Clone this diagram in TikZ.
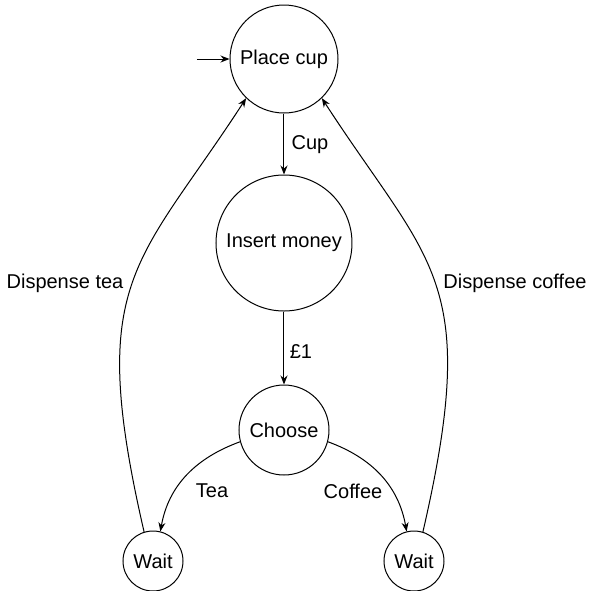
\documentclass[tikz,border=0pt]{standalone}
\usepackage{fontspec}
\setmainfont{Liberation Sans}
\usetikzlibrary{arrows.meta}

\begin{document}
\begin{tikzpicture}[x=0.5pt, y=0.5pt, ->, >={Stealth[length=4.5pt,width=3.5pt]}, draw=black, line width=0.5pt]
    \tikzstyle{state}=[circle, draw=black, inner sep=0pt, font=\fontsize{10}{12}\selectfont]
    \tikzstyle{label}=[font=\fontsize{10}{12}\selectfont]
    \useasboundingbox (0,0) rectangle (590,-591);

    % Draw the states
    \node[state, minimum size=54pt] (S-cup) at (284,-59) {Place cup};
    \node[state, minimum size=68pt] (S-money) at (284,-243) {Insert money};
    \node[state, minimum size=45pt] (S-choose) at (284,-430) {Choose};
    \node[state, minimum size=30pt] (S-tea) at (153,-561) {Wait};
    \node[state, minimum size=30pt] (S-coffee) at (414,-561) {Wait};
    \coordinate (start) at (197,-59);

    % Draw the transitions
    \draw (start) -- (S-cup);
    \draw (S-cup) -- (S-money);
    \draw (S-money) -- (S-choose);
    \draw (S-choose.195) to[out=200, in=80] (S-tea.76);
    \draw (S-choose.-15) to[out=-20, in=100] (S-coffee.104);
    \draw (S-tea.107) .. controls +(103:260) and +(237:200) .. (S-cup.226);
    \draw (S-coffee.73) .. controls +(77:260) and +(303:200) .. (S-cup.-46);

    % Labels of the transitions
    \node[label] (L-cup) at (310,-145) {Cup};
    \node[label] (L-money) at (301,-352) {£1};
    \node[label] (L-tea) at (212,-491) {Tea};
    \node[label] (L-coffee) at (353,-491) {Coffee};
    \node[label] (L-dtea) at (65,-283) {Dispense tea};
    \node[label] (L-dcoffee) at (515,-283) {Dispense coffee};
\end{tikzpicture}
\end{document}
